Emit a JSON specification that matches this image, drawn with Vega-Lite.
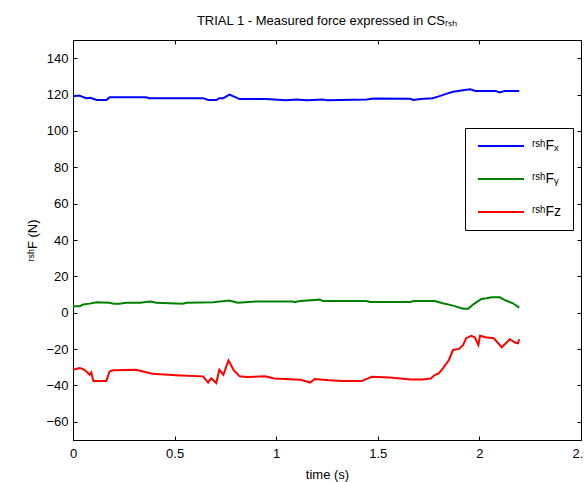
{
  "$schema": "https://vega.github.io/schema/vega-lite/v6.json",
  "width": 508,
  "height": 400,
  "autosize": {"type": "none"},
  "padding": {"left": 73, "top": 40, "right": 3, "bottom": 42},
  "background": "white",
  "title": {
    "text": "TRIAL 1 - Measured force expressed in CSᵣₛₕ",
    "fontSize": 13,
    "fontWeight": "normal",
    "font": "Liberation Sans",
    "color": "black",
    "offset": 12,
    "anchor": "middle"
  },
  "config": {
    "view": {"stroke": "black", "strokeWidth": 1},
    "font": "Liberation Sans",
    "axis": {
      "grid": false,
      "domainColor": "black",
      "tickColor": "black",
      "labelColor": "black",
      "titleColor": "black",
      "labelFont": "Liberation Sans",
      "titleFont": "Liberation Sans",
      "labelFontSize": 13,
      "titleFontSize": 13,
      "titleFontWeight": "normal",
      "ticks": true,
      "tickWidth": 1,
      "tickSize": -4,
      "labelFlush": false,
      "labelOverlap": false
    }
  },
  "data": {
    "values": [
      {"t": 0.0, "v": 119, "s": "ʳˢʰFₓ"},
      {"t": 0.03, "v": 119.5, "s": "ʳˢʰFₓ"},
      {"t": 0.065, "v": 118, "s": "ʳˢʰFₓ"},
      {"t": 0.085, "v": 118.2, "s": "ʳˢʰFₓ"},
      {"t": 0.117, "v": 117, "s": "ʳˢʰFₓ"},
      {"t": 0.165, "v": 117, "s": "ʳˢʰFₓ"},
      {"t": 0.18, "v": 118.5, "s": "ʳˢʰFₓ"},
      {"t": 0.36, "v": 118.5, "s": "ʳˢʰFₓ"},
      {"t": 0.375, "v": 118, "s": "ʳˢʰFₓ"},
      {"t": 0.64, "v": 118, "s": "ʳˢʰFₓ"},
      {"t": 0.665, "v": 117, "s": "ʳˢʰFₓ"},
      {"t": 0.705, "v": 117, "s": "ʳˢʰFₓ"},
      {"t": 0.72, "v": 118, "s": "ʳˢʰFₓ"},
      {"t": 0.74, "v": 118, "s": "ʳˢʰFₓ"},
      {"t": 0.77, "v": 120, "s": "ʳˢʰFₓ"},
      {"t": 0.79, "v": 119, "s": "ʳˢʰFₓ"},
      {"t": 0.82, "v": 117.5, "s": "ʳˢʰFₓ"},
      {"t": 0.95, "v": 117.5, "s": "ʳˢʰFₓ"},
      {"t": 1.05, "v": 116.8, "s": "ʳˢʰFₓ"},
      {"t": 1.1, "v": 117.3, "s": "ʳˢʰFₓ"},
      {"t": 1.15, "v": 116.8, "s": "ʳˢʰFₓ"},
      {"t": 1.23, "v": 117.3, "s": "ʳˢʰFₓ"},
      {"t": 1.25, "v": 116.8, "s": "ʳˢʰFₓ"},
      {"t": 1.445, "v": 117.3, "s": "ʳˢʰFₓ"},
      {"t": 1.48, "v": 117.8, "s": "ʳˢʰFₓ"},
      {"t": 1.66, "v": 117.7, "s": "ʳˢʰFₓ"},
      {"t": 1.675, "v": 117, "s": "ʳˢʰFₓ"},
      {"t": 1.71, "v": 117.5, "s": "ʳˢʰFₓ"},
      {"t": 1.77, "v": 118, "s": "ʳˢʰFₓ"},
      {"t": 1.8, "v": 119, "s": "ʳˢʰFₓ"},
      {"t": 1.84, "v": 120.5, "s": "ʳˢʰFₓ"},
      {"t": 1.87, "v": 121.5, "s": "ʳˢʰFₓ"},
      {"t": 1.92, "v": 122.4, "s": "ʳˢʰFₓ"},
      {"t": 1.955, "v": 122.9, "s": "ʳˢʰFₓ"},
      {"t": 1.98, "v": 122, "s": "ʳˢʰFₓ"},
      {"t": 2.08, "v": 122, "s": "ʳˢʰFₓ"},
      {"t": 2.1, "v": 121.2, "s": "ʳˢʰFₓ"},
      {"t": 2.125, "v": 122, "s": "ʳˢʰFₓ"},
      {"t": 2.196, "v": 122, "s": "ʳˢʰFₓ"},

      {"t": 0.0, "v": 3.6, "s": "ʳˢʰFᵧ"},
      {"t": 0.033, "v": 3.6, "s": "ʳˢʰFᵧ"},
      {"t": 0.05, "v": 4.5, "s": "ʳˢʰFᵧ"},
      {"t": 0.082, "v": 5, "s": "ʳˢʰFᵧ"},
      {"t": 0.115, "v": 5.8, "s": "ʳˢʰFᵧ"},
      {"t": 0.18, "v": 5.5, "s": "ʳˢʰFᵧ"},
      {"t": 0.2, "v": 5, "s": "ʳˢʰFᵧ"},
      {"t": 0.23, "v": 5, "s": "ʳˢʰFᵧ"},
      {"t": 0.26, "v": 5.5, "s": "ʳˢʰFᵧ"},
      {"t": 0.33, "v": 5.5, "s": "ʳˢʰFᵧ"},
      {"t": 0.38, "v": 6.2, "s": "ʳˢʰFᵧ"},
      {"t": 0.41, "v": 5.5, "s": "ʳˢʰFᵧ"},
      {"t": 0.54, "v": 5, "s": "ʳˢʰFᵧ"},
      {"t": 0.56, "v": 5.5, "s": "ʳˢʰFᵧ"},
      {"t": 0.69, "v": 5.8, "s": "ʳˢʰFᵧ"},
      {"t": 0.77, "v": 6.7, "s": "ʳˢʰFᵧ"},
      {"t": 0.81, "v": 5.5, "s": "ʳˢʰFᵧ"},
      {"t": 0.9, "v": 6.2, "s": "ʳˢʰFᵧ"},
      {"t": 1.08, "v": 6.2, "s": "ʳˢʰFᵧ"},
      {"t": 1.09, "v": 5.8, "s": "ʳˢʰFᵧ"},
      {"t": 1.117, "v": 6.4, "s": "ʳˢʰFᵧ"},
      {"t": 1.215, "v": 7.2, "s": "ʳˢʰFᵧ"},
      {"t": 1.23, "v": 6.4, "s": "ʳˢʰFᵧ"},
      {"t": 1.445, "v": 6.4, "s": "ʳˢʰFᵧ"},
      {"t": 1.46, "v": 5.9, "s": "ʳˢʰFᵧ"},
      {"t": 1.66, "v": 5.9, "s": "ʳˢʰFᵧ"},
      {"t": 1.675, "v": 6.4, "s": "ʳˢʰFᵧ"},
      {"t": 1.78, "v": 6.4, "s": "ʳˢʰFᵧ"},
      {"t": 1.82, "v": 5.2, "s": "ʳˢʰFᵧ"},
      {"t": 1.87, "v": 3.9, "s": "ʳˢʰFᵧ"},
      {"t": 1.92, "v": 2.2, "s": "ʳˢʰFᵧ"},
      {"t": 1.945, "v": 2.2, "s": "ʳˢʰFᵧ"},
      {"t": 1.97, "v": 4.6, "s": "ʳˢʰFᵧ"},
      {"t": 2.01, "v": 7.6, "s": "ʳˢʰFᵧ"},
      {"t": 2.035, "v": 8, "s": "ʳˢʰFᵧ"},
      {"t": 2.06, "v": 8.5, "s": "ʳˢʰFᵧ"},
      {"t": 2.1, "v": 8.5, "s": "ʳˢʰFᵧ"},
      {"t": 2.13, "v": 6.7, "s": "ʳˢʰFᵧ"},
      {"t": 2.165, "v": 5.2, "s": "ʳˢʰFᵧ"},
      {"t": 2.196, "v": 2.8, "s": "ʳˢʰFᵧ"},

      {"t": 0.0, "v": -31.4, "s": "ʳˢʰFᴢ"},
      {"t": 0.033, "v": -30.4, "s": "ʳˢʰFᴢ"},
      {"t": 0.05, "v": -31, "s": "ʳˢʰFᴢ"},
      {"t": 0.066, "v": -32.3, "s": "ʳˢʰFᴢ"},
      {"t": 0.082, "v": -34.1, "s": "ʳˢʰFᴢ"},
      {"t": 0.09, "v": -32.8, "s": "ʳˢʰFᴢ"},
      {"t": 0.1, "v": -37.5, "s": "ʳˢʰFᴢ"},
      {"t": 0.164, "v": -37.5, "s": "ʳˢʰFᴢ"},
      {"t": 0.18, "v": -32.3, "s": "ʳˢʰFᴢ"},
      {"t": 0.197, "v": -31.7, "s": "ʳˢʰFᴢ"},
      {"t": 0.31, "v": -31.4, "s": "ʳˢʰFᴢ"},
      {"t": 0.345, "v": -32.3, "s": "ʳˢʰFᴢ"},
      {"t": 0.39, "v": -33.6, "s": "ʳˢʰFᴢ"},
      {"t": 0.527, "v": -34.5, "s": "ʳˢʰFᴢ"},
      {"t": 0.64, "v": -35, "s": "ʳˢʰFᴢ"},
      {"t": 0.665, "v": -38.4, "s": "ʳˢʰFᴢ"},
      {"t": 0.68, "v": -36, "s": "ʳˢʰFᴢ"},
      {"t": 0.705, "v": -38.7, "s": "ʳˢʰFᴢ"},
      {"t": 0.72, "v": -31.4, "s": "ʳˢʰFᴢ"},
      {"t": 0.74, "v": -34.1, "s": "ʳˢʰFᴢ"},
      {"t": 0.765, "v": -26.2, "s": "ʳˢʰFᴢ"},
      {"t": 0.79, "v": -31.4, "s": "ʳˢʰFᴢ"},
      {"t": 0.82, "v": -35, "s": "ʳˢʰFᴢ"},
      {"t": 0.855, "v": -35.4, "s": "ʳˢʰFᴢ"},
      {"t": 0.945, "v": -34.9, "s": "ʳˢʰFᴢ"},
      {"t": 0.99, "v": -36.2, "s": "ʳˢʰFᴢ"},
      {"t": 1.12, "v": -36.9, "s": "ʳˢʰFᴢ"},
      {"t": 1.15, "v": -37.8, "s": "ʳˢʰFᴢ"},
      {"t": 1.166, "v": -38.4, "s": "ʳˢʰFᴢ"},
      {"t": 1.19, "v": -36.5, "s": "ʳˢʰFᴢ"},
      {"t": 1.26, "v": -37.2, "s": "ʳˢʰFᴢ"},
      {"t": 1.33, "v": -37.6, "s": "ʳˢʰFᴢ"},
      {"t": 1.42, "v": -37.6, "s": "ʳˢʰFᴢ"},
      {"t": 1.47, "v": -35.2, "s": "ʳˢʰFᴢ"},
      {"t": 1.56, "v": -35.6, "s": "ʳˢʰFᴢ"},
      {"t": 1.66, "v": -36.7, "s": "ʳˢʰFᴢ"},
      {"t": 1.72, "v": -36.7, "s": "ʳˢʰFᴢ"},
      {"t": 1.76, "v": -36.2, "s": "ʳˢʰFᴢ"},
      {"t": 1.78, "v": -34.3, "s": "ʳˢʰFᴢ"},
      {"t": 1.8, "v": -33.4, "s": "ʳˢʰFᴢ"},
      {"t": 1.82, "v": -30.6, "s": "ʳˢʰFᴢ"},
      {"t": 1.85, "v": -26, "s": "ʳˢʰFᴢ"},
      {"t": 1.87, "v": -20.5, "s": "ʳˢʰFᴢ"},
      {"t": 1.9, "v": -19.9, "s": "ʳˢʰFᴢ"},
      {"t": 1.92, "v": -17.7, "s": "ʳˢʰFᴢ"},
      {"t": 1.935, "v": -14, "s": "ʳˢʰFᴢ"},
      {"t": 1.96, "v": -12.7, "s": "ʳˢʰFᴢ"},
      {"t": 1.977, "v": -13.5, "s": "ʳˢʰFᴢ"},
      {"t": 1.995, "v": -17.7, "s": "ʳˢʰFᴢ"},
      {"t": 2.003, "v": -12.7, "s": "ʳˢʰFᴢ"},
      {"t": 2.03, "v": -13.5, "s": "ʳˢʰFᴢ"},
      {"t": 2.07, "v": -14, "s": "ʳˢʰFᴢ"},
      {"t": 2.11, "v": -19, "s": "ʳˢʰFᴢ"},
      {"t": 2.15, "v": -14.6, "s": "ʳˢʰFᴢ"},
      {"t": 2.175, "v": -16.4, "s": "ʳˢʰFᴢ"},
      {"t": 2.19, "v": -16.8, "s": "ʳˢʰFᴢ"},
      {"t": 2.196, "v": -14.6, "s": "ʳˢʰFᴢ"}
    ]
  },
  "layer": [
    {
      "mark": {"type": "line", "strokeWidth": 2, "interpolate": "linear"},
      "encoding": {
        "x": {
          "field": "t", "type": "quantitative",
          "scale": {"domain": [0, 2.5], "nice": false, "zero": false},
          "axis": {"title": "time (s)", "values": [0, 0.5, 1, 1.5, 2, 2.5], "labelPadding": 11, "titlePadding": 8, "labelExpr": "datum.value"}
        },
        "y": {
          "field": "v", "type": "quantitative",
          "scale": {"domain": [-70, 150], "nice": false, "zero": false},
          "axis": {"title": "ʳˢʰF (N)", "values": [-60, -40, -20, 0, 20, 40, 60, 80, 100, 120, 140], "labelPadding": 9, "titlePadding": 6}
        },
        "color": {
          "field": "s", "type": "nominal",
          "scale": {"domain": ["ʳˢʰFₓ", "ʳˢʰFᵧ", "ʳˢʰFᴢ"], "range": ["#0000ff", "#008000", "#ff0000"]},
          "legend": {
            "title": null,
            "orient": "none",
            "legendX": 392,
            "legendY": 88,
            "strokeColor": "black",
            "fillColor": "white",
            "padding": 11,
            "symbolType": "M-1,0H8.2",
            "symbolSize": 100,
            "symbolStrokeWidth": 2,
            "labelFontSize": 14,
            "labelColor": "black",
            "labelOffset": 42,
            "rowPadding": 19
          }
        }
      }
    },
    {
      "mark": {"type": "line", "strokeOpacity": 0},
      "encoding": {
        "x": {
          "field": "t", "type": "quantitative",
          "scale": {"domain": [0, 2.5], "nice": false, "zero": false},
          "axis": {"orient": "top", "title": null, "labels": false, "domain": false, "values": [0, 0.5, 1, 1.5, 2, 2.5]}
        },
        "y": {
          "field": "v", "type": "quantitative",
          "scale": {"domain": [-70, 150], "nice": false, "zero": false},
          "axis": {"orient": "right", "title": null, "labels": false, "domain": false, "values": [-60, -40, -20, 0, 20, 40, 60, 80, 100, 120, 140]}
        }
      }
    }
  ],
  "resolve": {"scale": {"x": "independent", "y": "independent"}}
}
